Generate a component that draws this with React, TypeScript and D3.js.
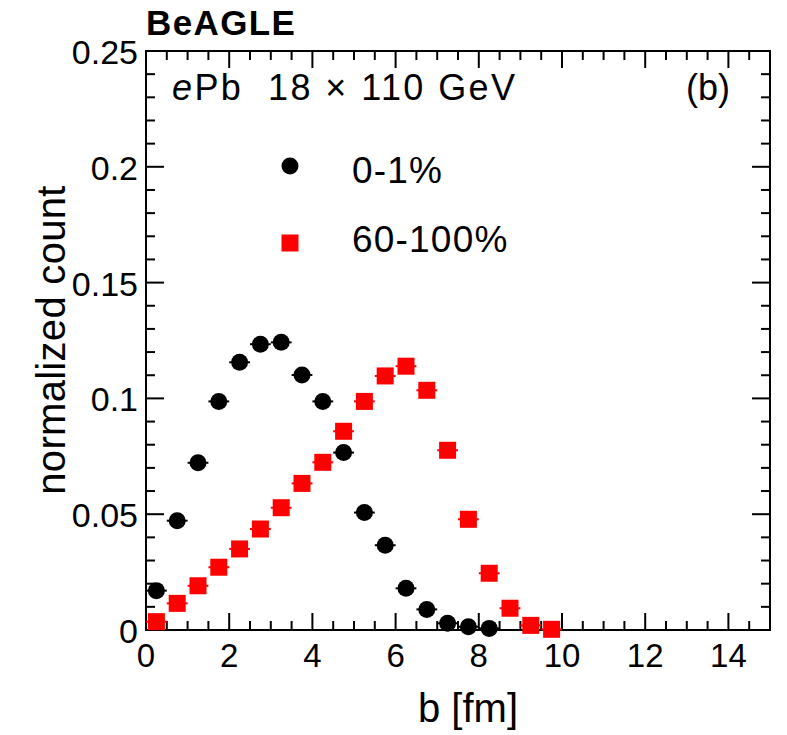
import React from "react";
import * as d3 from "d3";

const binCenters = [0.25, 0.75, 1.25, 1.75, 2.25, 2.75, 3.25, 3.75, 4.25, 4.75, 5.25, 5.75, 6.25, 6.75, 7.25, 7.75, 8.25, 8.75, 9.25, 9.75];
const central = [0.0170, 0.0472, 0.0722, 0.0987, 0.1156, 0.1234, 0.1242, 0.1101, 0.0987, 0.0766, 0.0507, 0.0366, 0.0180, 0.0089, 0.0029, 0.0014, 0.0007];
const peripheral = [0.0036, 0.0115, 0.0191, 0.0271, 0.0350, 0.0436, 0.0528, 0.0633, 0.0724, 0.0858, 0.0987, 0.1097, 0.1139, 0.1035, 0.0776, 0.0478, 0.0245, 0.0094, 0.0020, 0.0003];
const xTickLabels = [0, 2, 4, 6, 8, 10, 12, 14];
const yTickLabels = ["0", "0.05", "0.1", "0.15", "0.2", "0.25"];
const yTickValues = [0, 0.05, 0.1, 0.15, 0.2, 0.25];
const legendLabels = ["0-1%", "60-100%"];
const binHalfWidth = 0.25;

const W = 787, H = 735;
const L = 146, R = 770, T = 51, B = 630;
const FONT = "'Liberation Sans', Arial, Helvetica, sans-serif";

export default function App() {
  const x = d3.scaleLinear().domain([0, 15]).range([L, R]);
  const y = d3.scaleLinear().domain([0, 0.25]).range([B, T]);

  const xMinor = d3.range(0, 15.001, 0.5);
  const xMajor = d3.range(0, 15.001, 2);
  const yMinor = d3.range(0, 0.2501, 0.01);
  const yMajor = yTickValues;

  const ticks: JSX.Element[] = [];
  xMinor.forEach((v, i) => {
    const isMaj = xMajor.some((m) => Math.abs(m - v) < 1e-6);
    const len = isMaj ? 17 : 9;
    ticks.push(<line key={"xb" + i} x1={x(v)} x2={x(v)} y1={B} y2={B - len} stroke="#000" strokeWidth={2} />);
    ticks.push(<line key={"xt" + i} x1={x(v)} x2={x(v)} y1={T} y2={T + len} stroke="#000" strokeWidth={2} />);
  });
  yMinor.forEach((v, i) => {
    const isMaj = yMajor.some((m) => Math.abs(m - v) < 1e-6);
    const len = isMaj ? 18 : 9;
    ticks.push(<line key={"yl" + i} x1={L} x2={L + len} y1={y(v)} y2={y(v)} stroke="#000" strokeWidth={2} />);
    ticks.push(<line key={"yr" + i} x1={R} x2={R - len} y1={y(v)} y2={y(v)} stroke="#000" strokeWidth={2} />);
  });

  return (
    <svg width={W} height={H} style={{ position: "absolute", left: 0, top: 0, background: "#fff" }} fontFamily={FONT}>
      <rect x={0} y={0} width={W} height={H} fill="#fff" />
      {ticks}
      <rect x={L} y={T} width={R - L} height={B - T} fill="none" stroke="#000" strokeWidth={2} />

      {yTickValues.map((v, i) => (
        <text key={"yl" + i} x={138} y={y(v) + 13} fontSize={34} textAnchor="end">{yTickLabels[i]}</text>
      ))}
      {xTickLabels.map((v, i) => (
        <text key={"xl" + i} x={x(v)} y={667} fontSize={33} textAnchor="middle">{v}</text>
      ))}

      <text x={468} y={722} fontSize={40} textAnchor="middle">b [fm]</text>
      <text transform={`translate(65,340) rotate(-90)`} fontSize={40} letterSpacing={0.3} textAnchor="middle">normalized count</text>

      <text x={146} y={35} fontSize={35} fontWeight="bold" letterSpacing={1.4}>BeAGLE</text>
      <text x={172} y={100} fontSize={36} letterSpacing={2.4}>
        <tspan fontStyle="italic">e</tspan>Pb{"\u00a0\u00a0"}18 × 110 GeV
      </text>
      <text x={730} y={100} fontSize={36} textAnchor="end">(b)</text>

      {central.map((v, i) => (
        <g key={"c" + i}>
          <line x1={x(binCenters[i] - binHalfWidth)} x2={x(binCenters[i] + binHalfWidth)} y1={y(v)} y2={y(v)} stroke="#000" strokeWidth={2} />
          <circle cx={x(binCenters[i])} cy={y(v)} r={8.5} fill="#000" />
        </g>
      ))}
      {peripheral.map((v, i) => (
        <g key={"p" + i}>
          <line x1={x(binCenters[i] - binHalfWidth)} x2={x(binCenters[i] + binHalfWidth)} y1={y(v)} y2={y(v)} stroke="#ff0000" strokeWidth={2} />
          <rect x={x(binCenters[i]) - 8.5} y={y(v) - 8.5} width={17} height={17} fill="#ff0000" />
        </g>
      ))}

      <circle cx={290} cy={166} r={8.5} fill="#000" />
      <text x={352} y={183} fontSize={37} letterSpacing={1.2}>{legendLabels[0]}</text>
      <rect x={290 - 8.5} y={243 - 8.5} width={17} height={17} fill="#ff0000" />
      <text x={352} y={252} fontSize={37} letterSpacing={1.2}>{legendLabels[1]}</text>
    </svg>
  );
}
